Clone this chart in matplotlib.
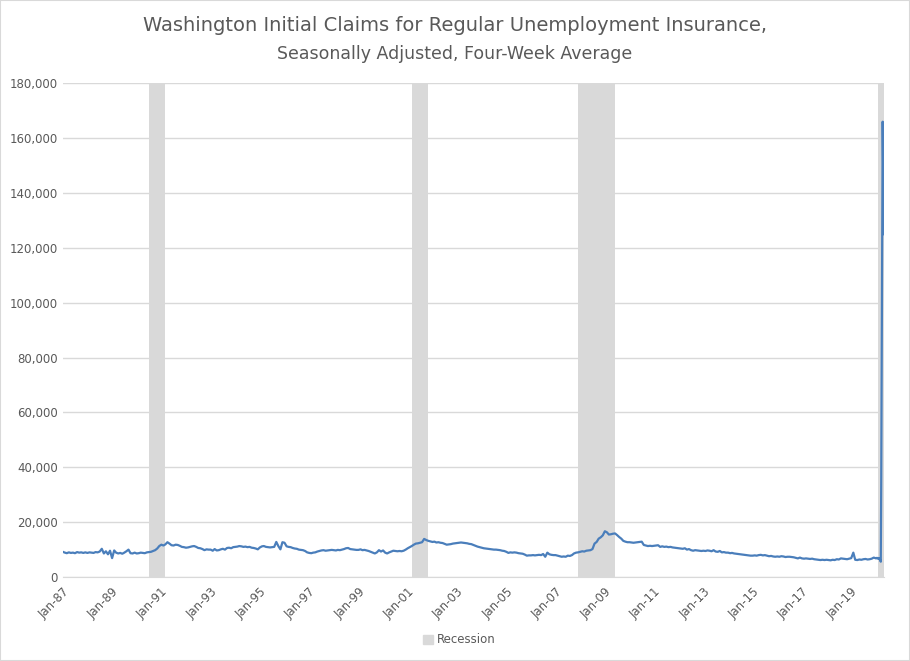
import matplotlib
matplotlib.use("Agg")
import matplotlib.pyplot as plt
import matplotlib.dates as mdates
import pandas as pd

# monthly four-week average claims (Jan..Dec per year)
claims_by_year = {
    1987: [9200, 8900, 8700, 9000, 8800, 8900, 8700, 9100, 8900, 9000, 8800, 9000],
    1988: [8800, 9000, 8900, 8800, 9100, 9000, 9300, 10300, 8600, 9400, 8300, 9600],
    1989: [6900, 9700, 8900, 8600, 8800, 8500, 8900, 9400, 10000, 8700, 8600, 8900],
    1990: [8600, 8700, 8900, 8800, 8700, 9000, 9100, 9200, 9500, 9800, 10400, 11300],
    1991: [11800, 11500, 11900, 12700, 12200, 11600, 11500, 11800, 11700, 11400, 11000, 10900],
    1992: [10700, 10800, 11000, 11200, 11300, 11000, 10600, 10500, 10200, 9800, 10100, 10000],
    1993: [10000, 9600, 10200, 9700, 9800, 10100, 10300, 10000, 10600, 10700, 10500, 10900],
    1994: [11000, 11100, 11300, 11200, 11000, 11100, 10900, 11000, 10700, 10600, 10400, 10100],
    1995: [10800, 11200, 11300, 11000, 10900, 10800, 10900, 11000, 12800, 11300, 10100, 12700],
    1996: [12500, 11200, 11000, 10900, 10600, 10400, 10300, 10000, 9900, 9800, 9500, 9000],
    1997: [8800, 8700, 8900, 9000, 9300, 9500, 9700, 9800, 9600, 9700, 9800, 9900],
    1998: [9800, 9700, 9900, 9800, 10000, 10200, 10500, 10600, 10200, 10100, 10000, 9900],
    1999: [9900, 10100, 9800, 9900, 9700, 9500, 9200, 8900, 8600, 9000, 9800, 9300],
    2000: [9700, 8900, 8600, 9000, 9300, 9600, 9500, 9400, 9500, 9400, 9600, 10000],
    2001: [10500, 10900, 11300, 11800, 12200, 12300, 12500, 12700, 13900, 13500, 13200, 13000],
    2002: [12800, 12900, 12600, 12700, 12500, 12400, 12100, 11800, 11900, 12000, 12200, 12300],
    2003: [12400, 12500, 12600, 12500, 12400, 12300, 12100, 12000, 11700, 11400, 11100, 10900],
    2004: [10700, 10500, 10400, 10300, 10200, 10100, 10000, 10000, 9900, 9800, 9600, 9500],
    2005: [9200, 8800, 9000, 8900, 9000, 8900, 8700, 8600, 8500, 8200, 7800, 7900],
    2006: [7900, 8000, 7900, 8000, 8100, 8000, 8400, 7400, 8900, 8300, 8100, 8000],
    2007: [8000, 7800, 7600, 7400, 7500, 7400, 7800, 7700, 8000, 8600, 8900, 9000],
    2008: [9200, 9400, 9300, 9600, 9700, 9800, 10200, 12200, 12800, 14000, 14500, 15200],
    2009: [16700, 16300, 15500, 15600, 15800, 15900, 15300, 14600, 14000, 13200, 12900, 12700],
    2010: [12700, 12600, 12500, 12600, 12700, 12800, 12900, 11700, 11500, 11300, 11400, 11300],
    2011: [11400, 11500, 11600, 11000, 11200, 11000, 11100, 10900, 11000, 10800, 10700, 10600],
    2012: [10500, 10400, 10300, 10500, 10000, 10200, 9800, 9600, 9800, 9700, 9600, 9500],
    2013: [9600, 9500, 9700, 9600, 9400, 9800, 9300, 9200, 9500, 9000, 9100, 8900],
    2014: [8900, 8700, 8800, 8600, 8500, 8400, 8300, 8200, 8100, 8000, 7900, 7800],
    2015: [7800, 7900, 7800, 8000, 8100, 7900, 8000, 7800, 7600, 7700, 7500, 7400],
    2016: [7500, 7400, 7600, 7500, 7300, 7400, 7400, 7300, 7200, 7000, 6800, 7100],
    2017: [6800, 6700, 6800, 6700, 6600, 6700, 6500, 6400, 6300, 6200, 6300, 6200],
    2018: [6300, 6200, 6100, 6300, 6200, 6500, 6400, 6800, 6700, 6600, 6500, 6700],
    2019: [6900, 8900, 6300, 6200, 6400, 6300, 6500, 6600, 6400, 6500, 6700, 7100],
}

# weekly points for 2020 (the covid spike)
weeks_2020 = ["2020-01-04", "2020-01-18", "2020-02-01", "2020-02-15", "2020-02-29",
              "2020-03-14", "2020-03-21", "2020-03-28", "2020-04-04", "2020-04-11",
              "2020-04-18", "2020-04-25"]
claims_2020 = [6800, 7000, 6700, 6900, 6500, 5600, 36000, 80000, 122000, 166000,
               150000, 125000]

recession_start = ["1990-07-01", "2001-03-01", "2007-12-01", "2020-02-01"]
recession_end = ["1991-03-01", "2001-11-01", "2009-06-01", "2020-04-25"]

dates = []
values = []
for year, months in claims_by_year.items():
    for m, v in enumerate(months):
        dates.append(pd.Timestamp(year=year, month=m + 1, day=1))
        values.append(v)
dates += list(pd.to_datetime(weeks_2020))
values += claims_2020

grey = "#595959"

fig = plt.figure(figsize=(9.1, 6.61), dpi=100)
ax = fig.add_axes([0.069, 0.127, 0.902, 0.747])

for s, e in zip(recession_start, recession_end):
    ax.axvspan(pd.Timestamp(s), pd.Timestamp(e), color="#d9d9d9", lw=0, zorder=1)

ax.plot(dates, values, color="#4a7ebb", lw=1.6, zorder=3)

ax.set_ylim(0, 180000)
ax.set_yticks(range(0, 180001, 20000))
ax.yaxis.set_major_formatter(matplotlib.ticker.FuncFormatter(lambda v, p: f"{int(v):,}"))
ax.set_xlim(pd.Timestamp("1987-01-01"), pd.Timestamp("2020-04-25"))
ax.set_xticks([pd.Timestamp(year=y, month=1, day=1) for y in range(1987, 2020, 2)])
ax.xaxis.set_major_formatter(mdates.DateFormatter("Jan-%y"))
plt.setp(ax.get_xticklabels(), rotation=45, ha="right", rotation_mode="anchor")

ax.grid(axis="y", color="#d9d9d9", lw=1, zorder=0)
ax.set_axisbelow(True)
for side in ["top", "right", "left"]:
    ax.spines[side].set_visible(False)
ax.spines["bottom"].set_color("#d9d9d9")
ax.tick_params(length=0, colors=grey, labelsize=8.5)
ax.tick_params(axis="x", pad=6)

fig.text(0.5, 0.962, "Washington Initial Claims for Regular Unemployment Insurance,",
         ha="center", va="center", fontsize=14, color=grey)
fig.text(0.5, 0.918, "Seasonally Adjusted, Four-Week Average",
         ha="center", va="center", fontsize=12.5, color=grey)

handle = matplotlib.patches.Patch(color="#d9d9d9", label="Recession")
fig.legend(handles=[handle], loc="center", bbox_to_anchor=(0.505, 0.032), frameon=False,
           fontsize=8.5, labelcolor=grey, handlelength=0.8, handleheight=0.8,
           handletextpad=0.4)

fig.patches.append(matplotlib.patches.Rectangle((0, 0), 1, 1, transform=fig.transFigure,
                                                fill=False, edgecolor="#d9d9d9", lw=1.5))

fig.savefig("out.png", dpi=100)
